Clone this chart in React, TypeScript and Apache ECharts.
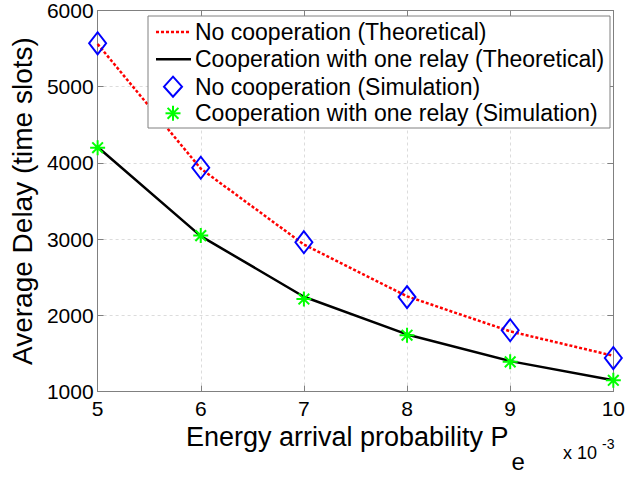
import React, { useEffect, useRef } from "react";
import * as echarts from "echarts";

// Energy arrival probability (in units of 1e-3)
const arrivalProb = [5, 6, 7, 8, 9, 10];

// Average delay in time slots
const noCoopTheory = [5560, 3925, 2930, 2250, 1790, 1470];
const coopTheory = [4210, 3040, 2245, 1750, 1400, 1150];
const noCoopSim = [5570, 3937, 2960, 2240, 1805, 1440];
const coopSim = [4200, 3047, 2214, 1740, 1390, 1148];

const legendLabels = [
  "No cooperation (Theoretical)",
  "Cooperation with one relay (Theoretical)",
  "No cooperation (Simulation)",
  "Cooperation with one relay (Simulation)",
];

const FONT = "'Liberation Sans', Arial, Helvetica, sans-serif";
const AXIS_GRAY = "#808080";

const STAR_PATH =
  "path://M8 0 L8 16 M0 8 L16 8 M2.3 2.3 L13.7 13.7 M2.3 13.7 L13.7 2.3";

const pairs = (ys: number[]) => arrivalProb.map((x, i) => [x, ys[i]]);

function buildLegend() {
  const rowsY = [32, 59.3, 86.7, 113.3];
  const left = 148;
  const Z = 100;
  const children: any[] = [
    {
      type: "rect",
      z: Z,
      shape: { x: left, y: 16, width: 462, height: 112 },
      style: { fill: "#ffffff", stroke: AXIS_GRAY, lineWidth: 1 },
    },
    {
      type: "line",
      z: Z + 1,
      shape: { x1: 156, y1: rowsY[0], x2: 191, y2: rowsY[0] },
      style: { stroke: "#ff0000", lineWidth: 2.5, lineDash: [3, 2] },
    },
    {
      type: "line",
      z: Z + 1,
      shape: { x1: 156, y1: rowsY[1], x2: 191, y2: rowsY[1] },
      style: { stroke: "#000000", lineWidth: 2.5 },
    },
    {
      type: "polygon",
      z: Z + 1,
      shape: {
        points: [
          [173, rowsY[2] - 10],
          [182, rowsY[2]],
          [173, rowsY[2] + 10],
          [164, rowsY[2]],
        ],
      },
      style: { fill: "none", stroke: "#0000ff", lineWidth: 2 },
    },
  ];
  const cx = 173;
  const cy = rowsY[3];
  const r = 7.5;
  const d = r * 0.72;
  [
    [cx, cy - r, cx, cy + r],
    [cx - r, cy, cx + r, cy],
    [cx - d, cy - d, cx + d, cy + d],
    [cx - d, cy + d, cx + d, cy - d],
  ].forEach(([x1, y1, x2, y2]) =>
    children.push({
      type: "line",
      z: Z + 1,
      shape: { x1, y1, x2, y2 },
      style: { stroke: "#00ff00", lineWidth: 2 },
    })
  );
  legendLabels.forEach((label, i) =>
    children.push({
      type: "text",
      z: Z + 1,
      x: 195,
      y: rowsY[i],
      style: {
        text: label,
        fontFamily: FONT,
        fontSize: 23,
        fill: "#000000",
        verticalAlign: "middle",
      },
    })
  );
  return { type: "group", z: Z, children };
}

export default function App() {
  const ref = useRef<HTMLDivElement>(null);

  useEffect(() => {
    if (!ref.current) return;
    const chart = echarts.init(ref.current, undefined, { renderer: "svg" });

    const baseX = {
      type: "value" as const,
      min: 5,
      max: 10,
      interval: 1,
      axisLine: { show: true, onZero: false, lineStyle: { color: AXIS_GRAY, width: 1 } },
      axisTick: { show: true, inside: true, length: 6, lineStyle: { color: AXIS_GRAY } },
    };
    const baseY = {
      type: "value" as const,
      min: 1000,
      max: 6000,
      interval: 1000,
      axisLine: { show: true, onZero: false, lineStyle: { color: AXIS_GRAY, width: 1 } },
      axisTick: { show: true, inside: true, length: 6, lineStyle: { color: AXIS_GRAY } },
    };

    chart.setOption({
      animation: false,
      backgroundColor: "#ffffff",
      textStyle: { fontFamily: FONT },
      grid: { left: 95, right: 14, top: 10, bottom: 71, containLabel: false },
      xAxis: [
        {
          ...baseX,
          position: "bottom",
          axisLabel: { fontSize: 21, color: "#000", margin: 6, fontFamily: FONT },
          splitLine: {
            show: true,
            lineStyle: { color: "#dcdcdc", type: [3, 3], width: 1 },
          },
          name: "{m|Energy arrival probability P}{s|e}",
          nameLocation: "middle",
          nameGap: 24,
          nameTextStyle: {
            color: "#000",
            fontFamily: FONT,
            rich: {
              m: { fontSize: 27, fontFamily: FONT, color: "#000", padding: [0, 0, 24, 0] },
              s: { fontSize: 24, fontFamily: FONT, color: "#000", padding: [24, 0, 0, 3] },
            },
          },
        },
        {
          ...baseX,
          position: "top",
          axisLabel: { show: false },
          splitLine: { show: false },
        },
      ],
      yAxis: [
        {
          ...baseY,
          position: "left",
          axisLabel: {
            fontSize: 21,
            color: "#000",
            margin: 4,
            fontFamily: FONT,
            formatter: (v: number) => String(v),
          },
          splitLine: {
            show: true,
            lineStyle: { color: "#dcdcdc", type: [3, 3], width: 1 },
          },
          name: "Average Delay (time slots)",
          nameLocation: "middle",
          nameGap: 57,
          nameTextStyle: { fontSize: 28, color: "#000", fontFamily: FONT },
        },
        {
          ...baseY,
          position: "right",
          axisLabel: { show: false },
          splitLine: { show: false },
        },
      ],
      series: [
        {
          name: legendLabels[0],
          type: "line",
          data: pairs(noCoopTheory),
          showSymbol: false,
          symbol: "none",
          lineStyle: { color: "#ff0000", width: 2.5, type: [3, 2] },
          z: 2,
        },
        {
          name: legendLabels[1],
          type: "line",
          data: pairs(coopTheory),
          showSymbol: false,
          symbol: "none",
          lineStyle: { color: "#000000", width: 2.5 },
          z: 2,
        },
        {
          name: legendLabels[2],
          type: "scatter",
          data: pairs(noCoopSim),
          symbol: "diamond",
          symbolSize: [17, 22],
          itemStyle: { color: "rgba(255,255,255,0)", borderColor: "#0000ff", borderWidth: 2, opacity: 1 },
          z: 3,
        },
        {
          name: legendLabels[3],
          type: "scatter",
          data: pairs(coopSim),
          symbol: STAR_PATH,
          symbolSize: 15,
          itemStyle: { color: "#00ff00", borderColor: "#00ff00", borderWidth: 2, opacity: 1 },
          z: 4,
        },
      ],
      graphic: [
        buildLegend(),
        {
          type: "text",
          z: 100,
          left: 563,
          top: 444,
          style: { text: "x 10", fontFamily: FONT, fontSize: 18, fill: "#000" },
        },
        {
          type: "text",
          z: 100,
          left: 602,
          top: 437,
          style: { text: "-3", fontFamily: FONT, fontSize: 14, fill: "#000" },
        },
      ],
    });

    return () => chart.dispose();
  }, []);

  return (
    <div
      ref={ref}
      style={{ position: "absolute", left: 0, top: 0, width: 628, height: 478, background: "#fff" }}
    />
  );
}
